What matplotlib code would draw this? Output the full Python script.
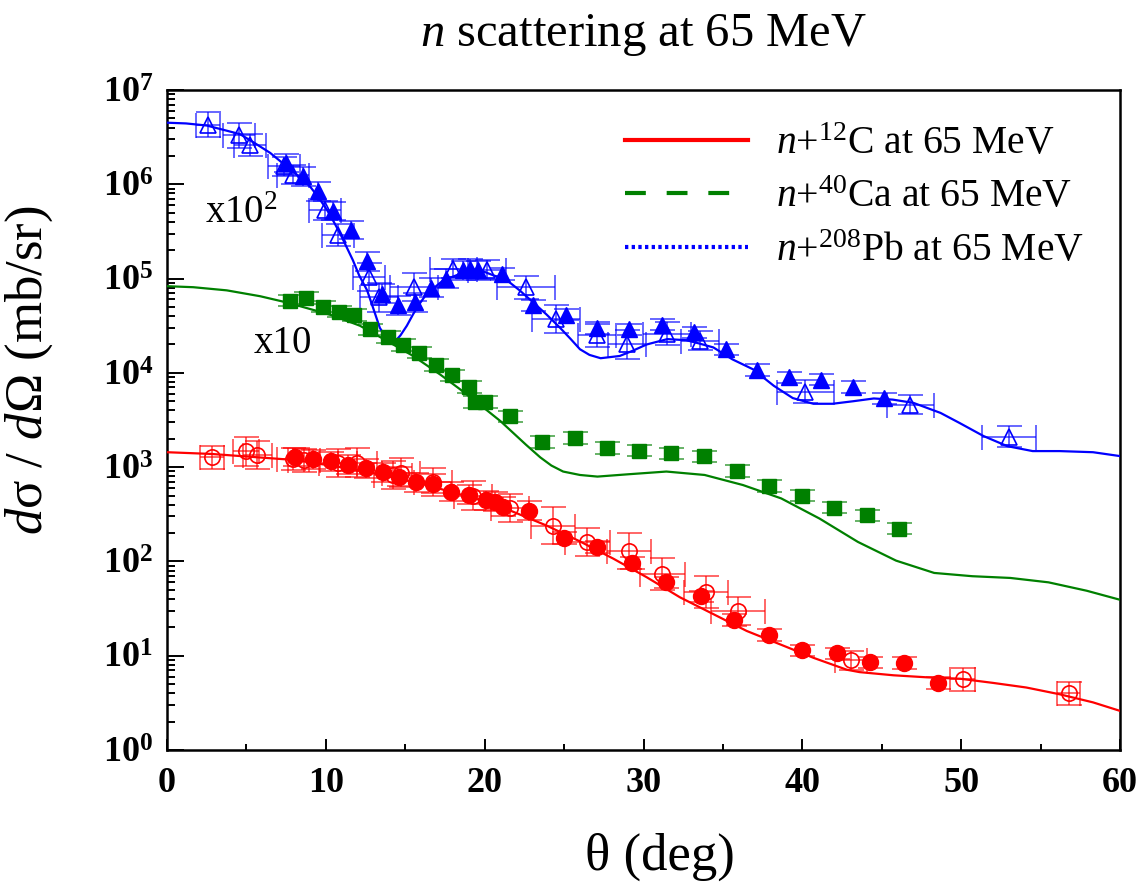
import numpy as np
import matplotlib
matplotlib.use('Agg')
import matplotlib.pyplot as plt
from matplotlib.lines import Line2D
from matplotlib.ticker import LogLocator, FuncFormatter, MultipleLocator, NullFormatter

# theory curves (C x1, Ca x10, Pb x100)
c_th = [0, 2.8, 8.06, 12.15, 16.35, 20.55, 21.8, 23.9, 26.0, 28.1, 30.2, 32.3, 34.4,
        36.5, 38.6, 40.7, 42.8, 43.6, 45.74, 47.84, 49.94, 52.0, 54.1, 56.2, 58.3, 60]
c_sig = [1.44e3, 1.38e3, 1.19e3, 9.3e2, 6.45e2, 4.1e2, 3.36e2, 2.4e2, 1.63e2, 1.07e2, 68, 41.6, 27.6,
         18.3, 13.2, 9.5, 7.1, 6.7, 6.2, 5.9, 5.7, 5.15, 4.6, 3.9, 3.2, 2.6]

ca_th = [0, 1.65, 3.76, 5.86, 7.5, 9.0, 10.45, 12.15, 13.83, 15.5, 17.2, 18.45, 19.7, 21.0,
         22.6, 23.5, 24.2, 24.94, 26.0, 27.1, 29.03, 31.44, 33.85, 36.26, 38.67, 41.08, 43.5,
         45.9, 48.3, 50.7, 53.1, 55.5, 57.9, 60]
ca_sig = [8.3e4, 8.1e4, 7.5e4, 6.5e4, 5.6e4, 4.76e4, 4.05e4, 3.16e4, 2.19e4, 1.51e4, 9.6e3, 6.7e3,
          4.6e3, 3.07e3, 1.73e3, 1.27e3, 1.04e3, 898, 826, 794, 840, 898, 826, 646, 466, 285,
          161, 102, 75.5, 69.7, 66.8, 60, 48.9, 39.2]

pb_th = [0, 1.2, 2.5, 3.5, 4.6, 5.5, 6.5, 7.2, 7.9, 8.5, 9.0, 9.5, 10.06, 10.5, 10.9, 11.3,
         11.7, 12.1, 12.6, 13.0, 13.4, 13.7, 14.05, 14.35, 14.7, 15.1, 15.5, 15.9, 16.35,
         17.4, 18.45, 19.7, 20.5, 21.4, 22.2, 23.05, 23.9, 24.75, 25.4, 26.0, 26.6, 27.3,
         28.5, 29.3, 30.2, 31.5, 32.7, 33.5, 34.4, 35.6, 36.9, 38.2, 39.4, 40.7, 41.9,
         43.2, 44.5, 45.7, 47.0, 48.7, 49.9, 51.4, 52.9, 54.5, 56.2, 58.3, 60]
pb_sig = [4.5e6, 4.42e6, 4.2e6, 3.8e6, 3.4e6, 2.75e6, 2.15e6, 1.72e6, 1.37e6, 1.14e6, 9.5e5,
          7.4e5, 5.4e5, 4.0e5, 3.0e5, 2.17e5, 1.57e5, 1.08e5, 7.5e4, 4.76e4, 3.0e4, 2.5e4,
          2.07e4, 2.15e4, 2.5e4, 3.16e4, 4.2e4, 5.4e4, 6.9e4, 9.6e4, 1.12e5, 1.23e5, 1.09e5,
          9.6e4, 7.5e4, 5.6e4, 4.15e4, 3.0e4, 2.3e4, 1.78e4, 1.55e4, 1.43e4, 1.51e4, 1.71e4,
          2.0e4, 2.28e4, 2.22e4, 2.05e4, 1.86e4, 1.39e4, 1.09e4, 7.3e3, 5.4e3, 4.7e3, 4.7e3,
          5.0e3, 5.35e3, 5.2e3, 4.8e3, 3.76e3, 2.94e3, 2.14e3, 1.67e3, 1.48e3, 1.48e3,
          1.44e3, 1.31e3]

# measured points: filled and open sets, y errors in dex
c_fill_th = [8.06, 9.17, 10.3, 11.42, 12.51, 13.58, 14.63, 15.68, 16.77, 17.88, 19.02, 20.09,
             20.65, 21.18, 22.8, 25.0, 27.1, 29.26, 31.4, 33.6, 35.7, 37.87, 39.97, 42.17,
             44.27, 46.37, 48.57]
c_fill_sig = [1.28e3, 1.21e3, 1.15e3, 1.06e3, 970, 880, 790, 690, 670, 550, 510, 446, 430, 380,
              344, 177, 142, 96, 60, 42.6, 24, 16.6, 11.4, 10.6, 8.5, 8.4, 5.15]
c_fill_err = [0.1] * 15 + [0.06] * 12

c_open_th = [2.81, 4.97, 5.69, 7.91, 8.63, 10.79, 11.99, 14.25, 14.71, 16.77, 19.29, 21.6,
             24.29, 26.47, 29.09, 31.19, 33.92, 35.98, 43.05, 50.1, 56.76]
c_open_sig = [1270, 1470, 1350, 1220, 1180, 1100, 1120, 830, 875, 690, 500, 370, 240, 160, 129,
              74, 47.7, 30, 8.9, 5.6, 4.0]
c_open_xerr = [0.75, 0.8, 0.9, 1.0, 1.0, 1.2, 1.2, 1.2, 1.2, 1.2, 1.2, 1.2, 1.4, 1.4, 1.4,
               1.4, 1.4, 1.7, 1.0, 0.8, 0.7]
c_open_err = [0.12, 0.15, 0.15, 0.12, 0.12, 0.15, 0.15, 0.15, 0.15, 0.15, 0.15, 0.15, 0.2, 0.15,
              0.19, 0.17, 0.17, 0.15, 0.1, 0.12, 0.12]

ca_fill_th = [7.75, 8.73, 9.8, 10.81, 11.8, 12.78, 13.9, 14.88, 15.89, 16.92, 17.97, 19.02,
              19.4, 20.0, 21.6, 23.6, 25.7, 27.7, 29.7, 31.7, 33.8, 35.9, 37.9, 40.0, 42.0,
              44.1, 46.07]
ca_fill_sig = [5.85e4, 6.2e4, 5.05e4, 4.47e4, 4.1e4, 2.9e4, 2.4e4, 1.98e4, 1.64e4, 1.21e4,
               9.4e3, 7.1e3, 4.9e3, 4.9e3, 3.47e3, 1.85e3, 2.03e3, 1.59e3, 1.49e3, 1.4e3,
               1.3e3, 912, 630, 498, 371, 309, 223]
ca_fill_err = [0.06] * 27

pb_fill_th = [7.5, 8.54, 9.53, 10.47, 11.59, 12.62, 13.56, 14.57, 15.62, 16.6, 17.57, 18.62,
              19.08, 19.6, 21.07, 23.07, 25.13, 27.06, 29.1, 31.15, 33.2, 35.18, 37.12, 39.19,
              41.16, 43.18, 45.15]
pb_fill_sig = [1.68e6, 1.21e6, 8.4e5, 5.2e5, 3.27e5, 1.53e5, 6.9e4, 5.2e4, 5.6e4, 8.0e4,
               9.95e4, 1.22e5, 1.27e5, 1.22e5, 1.12e5, 5.2e4, 4.15e4, 3.0e4, 2.9e4, 3.25e4,
               2.7e4, 1.78e4, 1.07e4, 9.0e3, 8.5e3, 7.1e3, 5.35e3]
pb_fill_err = [0.1] * 14 + [0.06] * 13

pb_open_th = [2.6, 4.55, 5.23, 7.37, 7.95, 9.95, 10.79, 12.74, 13.37, 15.55, 18.03, 20.13,
              22.6, 24.5, 27.06, 28.95, 31.47, 33.57, 40.18, 46.8, 53.0]
pb_open_sig = [4.3e6, 3.3e6, 2.6e6, 1.55e6, 1.26e6, 5.3e5, 2.9e5, 1.04e5, 6.3e4, 8.1e4,
               1.27e5, 1.24e5, 8.1e4, 3.7e4, 2.5e4, 2.0e4, 2.6e4, 2.2e4, 6.3e3, 4.6e3, 2.1e3]
pb_open_xerr = [0.75, 1.0, 1.0, 1.0, 1.0, 1.0, 1.0, 1.0, 1.2, 1.5, 1.5, 1.2, 1.8, 1.5, 1.2,
                1.2, 1.5, 1.2, 1.8, 1.5, 1.7]
pb_open_err = [0.13, 0.13, 0.12, 0.1, 0.1, 0.1, 0.12, 0.15, 0.15, 0.15, 0.1, 0.1, 0.12, 0.15,
               0.12, 0.15, 0.12, 0.1, 0.12, 0.1, 0.11]

RED, GREEN, BLUE = '#ff0000', '#008000', '#0000ff'

plt.rcParams['font.family'] = ['Liberation Serif', 'DejaVu Serif']
plt.rcParams['mathtext.fontset'] = 'custom'
plt.rcParams['mathtext.rm'] = 'Liberation Serif'
plt.rcParams['mathtext.it'] = 'Liberation Serif:italic'
plt.rcParams['mathtext.bf'] = 'Liberation Serif:bold'

fig = plt.figure(figsize=(11.42, 8.86), dpi=100)
ax = fig.add_axes([167 / 1142, 136 / 886, 953 / 1142, 660 / 886])


def data_set(th, sig, dex, color, marker, ms, filled, xerr=None):
    sig = np.array(sig)
    dex = np.array(dex)
    lo = sig - sig / 10 ** dex
    hi = sig * 10 ** dex - sig
    ax.errorbar(th, sig, yerr=[lo, hi], xerr=xerr, fmt='none', ecolor=color, alpha=0.6,
                elinewidth=1.4, capsize=9, capthick=1.4, zorder=2)
    if filled:
        ax.plot(th, sig, ls='none', marker=marker, ms=ms, color=color, zorder=4)
    else:
        ax.plot(th, sig, ls='none', marker=marker, ms=ms, mfc='none', mec=color,
                mew=1.2, zorder=4)


ax.plot(c_th, c_sig, color=RED, lw=1.6, zorder=3)
ax.plot(ca_th, ca_sig, color=GREEN, lw=1.6, zorder=3)
ax.plot(pb_th, pb_sig, color=BLUE, lw=1.6, zorder=3)

data_set(c_open_th, c_open_sig, c_open_err, RED, 'o', 11, False, xerr=c_open_xerr)
data_set(c_fill_th, c_fill_sig, c_fill_err, RED, 'o', 11.5, True)
data_set(ca_fill_th, ca_fill_sig, ca_fill_err, GREEN, 's', 10, True)
data_set(pb_open_th, pb_open_sig, pb_open_err, BLUE, '^', 11, False, xerr=pb_open_xerr)
data_set(pb_fill_th, pb_fill_sig, pb_fill_err, BLUE, '^', 11.5, True)

ax.set_yscale('log')
ax.set_xlim(0, 60)
ax.set_ylim(1, 1e7)
ax.xaxis.set_major_locator(MultipleLocator(10))
ax.xaxis.set_minor_locator(MultipleLocator(5))
ax.yaxis.set_major_locator(LogLocator(base=10, numticks=10))
ax.yaxis.set_minor_locator(LogLocator(base=10, subs=np.arange(2, 10), numticks=10))
ax.yaxis.set_minor_formatter(NullFormatter())
ax.yaxis.set_major_formatter(FuncFormatter(
    lambda v, _: r'$\mathbf{10^{%d}}$' % int(round(np.log10(v)))))
ax.xaxis.set_major_formatter(FuncFormatter(lambda v, _: '%d' % v))

ax.tick_params(which='both', direction='in', top=False, right=False, width=1.4)
ax.tick_params(axis='y', which='major', length=12, pad=10, labelsize=26)
ax.tick_params(axis='y', which='minor', length=6)
ax.tick_params(axis='x', which='major', length=8, pad=12, labelsize=26)
ax.tick_params(axis='x', which='minor', length=4)
for lab in ax.get_xticklabels():
    lab.set_fontweight('bold')
for sp in ax.spines.values():
    sp.set_linewidth(1.8)

ax.set_title('$n$ scattering at 65 MeV', fontsize=35, pad=32)
ax.set_xlabel('θ (deg)', fontsize=38)
ax.set_ylabel('$d$σ / $d$Ω (mb/sr)', fontsize=38)
ax.xaxis.set_label_coords(0.517, -0.125)
ax.yaxis.set_label_coords(-0.117, 0.576)

ax.text(4.66, 10 ** 5.69, 'x10$^2$', ha='center', va='center', fontsize=28)
ax.text(7.3, 10 ** 4.31, 'x10', ha='center', va='center', fontsize=28)

handles = [Line2D([], [], color=RED, lw=3),
           Line2D([], [], color=GREEN, lw=3, ls=(0, (5, 5))),
           Line2D([], [], color=BLUE, lw=3, ls=(0, (0.8, 0.8)))]
labels = ['$n$+$^{12}$C at 65 MeV', '$n$+$^{40}$Ca at 65 MeV', '$n$+$^{208}$Pb at 65 MeV']
ax.legend(handles, labels, loc='upper right', bbox_to_anchor=(1.0, 1.0), frameon=False,
          fontsize=28.5, handlelength=3.1, handletextpad=0.72, labelspacing=0.42,
          borderaxespad=0.5)

fig.savefig('out.png', dpi=100)
